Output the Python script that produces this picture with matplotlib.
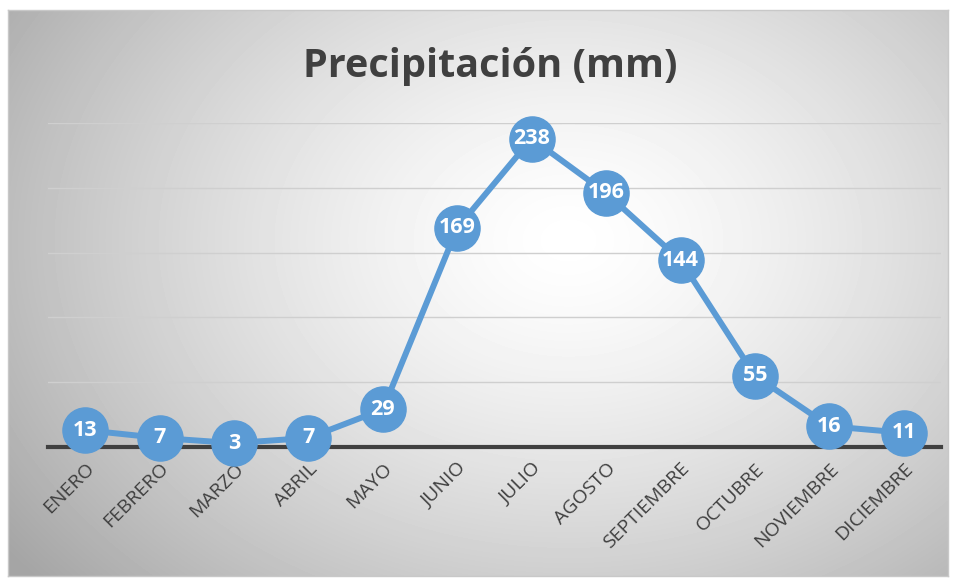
import numpy as np
import matplotlib.pyplot as plt

# ============================================================
#  Data
# ============================================================

MESES = ["ENERO", "FEBRERO", "MARZO", "ABRIL", "MAYO", "JUNIO", "JULIO",
         "AGOSTO", "SEPTIEMBRE", "OCTUBRE", "NOVIEMBRE", "DICIEMBRE"]
PRECIP = [13, 7, 3, 7, 29, 169, 238, 196, 144, 55, 16, 11]
GRID_Y = [50, 100, 150, 200, 250]

BLUE = "#5B9BD5"
DARK = "#404040"

W, H = 956, 579
fig = plt.figure(figsize=(W / 100, H / 100), dpi=100)
fig.patch.set_facecolor("white")

# ---- radial gradient background (chart area) ----
bg = fig.add_axes([8 / W, 1 - 576 / H, 940 / W, 566 / H])
yy, xx = np.mgrid[0:566, 0:940]
cx, cy = 560, 230
r = np.sqrt(((xx - cx) / 560.0) ** 2 + ((yy - cy) / 420.0) ** 2)
shade = 1.0 - 0.26 * np.clip(r, 0, 1.25) ** 1.4
bg.imshow(shade, cmap="gray", vmin=0, vmax=1, aspect="auto",
          interpolation="bilinear")
bg.set_xticks([])
bg.set_yticks([])
for s in bg.spines.values():
    s.set_color("#C8C8C8")
    s.set_linewidth(1.0)

# ---- plot area ----
ax = fig.add_axes([48 / W, 1 - 447 / H, 893 / W, 324 / H])
ax.patch.set_alpha(0)
x = np.arange(len(MESES))
ax.set_xlim(-0.5, len(MESES) - 0.5)
ax.set_ylim(0, 250)

for g in GRID_Y:
    ax.axhline(g, color="#CFCFCF", linewidth=1.0, zorder=1)
ax.axhline(0, color=DARK, linewidth=3.0, zorder=2, clip_on=False)

ax.plot(x, PRECIP, color=BLUE, linewidth=4.3, marker="o", markersize=32.5,
        markerfacecolor=BLUE, markeredgecolor=BLUE, zorder=3, clip_on=False)
for xi, v in zip(x, PRECIP):
    ax.text(xi, v, str(v), ha="center", va="center", color="white",
            fontsize=15.5, fontweight="bold", family="Open Sans", zorder=4)

for s in ax.spines.values():
    s.set_visible(False)
ax.set_yticks([])
ax.set_xticks(x)
ax.set_xticklabels(MESES, rotation=45, ha="right", va="top",
                   rotation_mode="anchor", fontsize=14, color=DARK,
                   family="Open Sans")
ax.tick_params(axis="x", length=0, pad=9)

fig.text(490 / W, 1 - 66 / H, "Precipitación (mm)", ha="center", va="center",
         fontsize=28.5, fontweight="bold", color=DARK, family="Open Sans")

fig.savefig("out.png", dpi=100)
